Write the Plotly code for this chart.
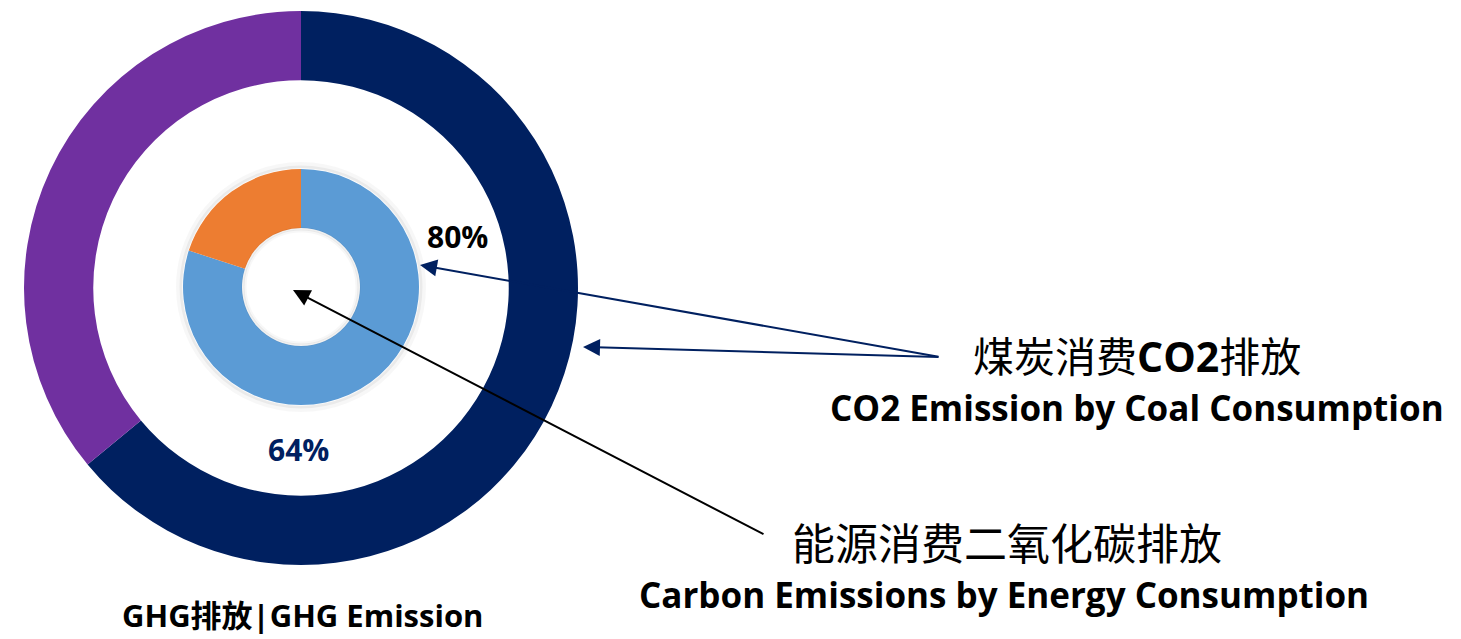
import plotly.graph_objects as go

W, H = 1461, 639

outer_labels = ["煤炭消费CO2排放", "其他"]
outer_values = [64, 36]
outer_colors = ["#002060", "#7030A0"]

inner_labels = ["能源消费二氧化碳排放", "其他"]
inner_values = [80, 20]
inner_colors = ["#5B9BD5", "#ED7D31"]

outer_pct_label = "64%"
inner_pct_label = "80%"
title_bottom = "GHG排放|GHG Emission"
label1_cn = "煤炭消费<span style='font-family:Open Sans'><b>CO2</b></span>排放"
label1_en = "CO2 Emission by Coal Consumption"
label2_cn = "能源消费二氧化碳排放"
label2_en = "Carbon Emissions by Energy Consumption"


def px(x):
    return x / W


def py(y):
    return 1 - y / H


def dom(cx, cy, r):
    return dict(x=[px(cx - r), px(cx + r)], y=[py(cy + r), py(cy - r)])


fig = go.Figure()

shapes = []
# soft shadow ring around inner donut
for dr, op, w in [(4, 0.03, 6), (2, 0.05, 3)]:
    r = 118 + dr
    shapes.append(dict(type="circle", xref="paper", yref="paper",
                       x0=px(301 - r), x1=px(301 + r), y0=py(287 + r), y1=py(287 - r),
                       fillcolor="rgba(0,0,0,0)", line=dict(width=w, color="rgba(0,0,0,%s)" % op),
                       layer="below"))

fig.add_trace(go.Pie(
    labels=outer_labels, values=outer_values, hole=0.75, sort=False,
    direction="clockwise", rotation=0, domain=dom(301, 288, 277),
    marker=dict(colors=outer_colors, line=dict(width=0)),
    textinfo="none", hoverinfo="label+percent", showlegend=False,
))
fig.add_trace(go.Pie(
    labels=inner_labels, values=inner_values, hole=0.5, sort=False,
    direction="clockwise", rotation=0, domain=dom(301, 287, 118),
    marker=dict(colors=inner_colors, line=dict(width=0)),
    textinfo="none", hoverinfo="label+percent", showlegend=False,
))

# inner shadow in the hole
for dr, op in [(1, 0.06), (3, 0.03)]:
    r = 59 - dr
    shapes.append(dict(type="circle", xref="paper", yref="paper",
                       x0=px(301 - r), x1=px(301 + r), y0=py(287 + r), y1=py(287 - r),
                       fillcolor="rgba(0,0,0,0)", line=dict(width=3, color="rgba(0,0,0,%s)" % op),
                       layer="above"))

EN = "'Open Sans', 'Noto Sans CJK SC', sans-serif"
CN = "'Noto Sans CJK SC', sans-serif"

ann = []


def text(x, y, s, size, color="#000000", family=EN, bold=True):
    ann.append(dict(x=px(x), y=py(y), xref="paper", yref="paper", showarrow=False,
                    text=("<b>%s</b>" % s) if bold else s, xanchor="center", yanchor="middle",
                    font=dict(size=size, color=color, family=family)))


def arrow(x0, y0, x1, y1, color, width):
    ann.append(dict(x=px(x1), y=py(y1), xref="paper", yref="paper",
                    ax=x0 - x1, ay=y0 - y1, axref="pixel", ayref="pixel",
                    text="", showarrow=True, arrowhead=2, arrowsize=1.7,
                    arrowwidth=width, arrowcolor=color, standoff=0, startstandoff=0))


text(457, 236, inner_pct_label, 30)
text(298, 450, outer_pct_label, 30, color="#002060")
text(302, 615, title_bottom, 31)
text(1137, 354, label1_cn, 41, family=CN, bold=False)
text(1137, 407, label1_en, 35)
text(1007, 541, label2_cn, 43, family=CN, bold=False)
text(1004, 594, label2_en, 35)

arrow(940, 357, 420, 265, "#002060", 2)
arrow(940, 357, 583, 347, "#002060", 2)
arrow(765, 535, 293, 290, "#000000", 2)

fig.update_layout(width=W, height=H, margin=dict(l=0, r=0, t=0, b=0),
                  paper_bgcolor="white", plot_bgcolor="white",
                  annotations=ann, shapes=shapes)

fig.write_html("out.html")
